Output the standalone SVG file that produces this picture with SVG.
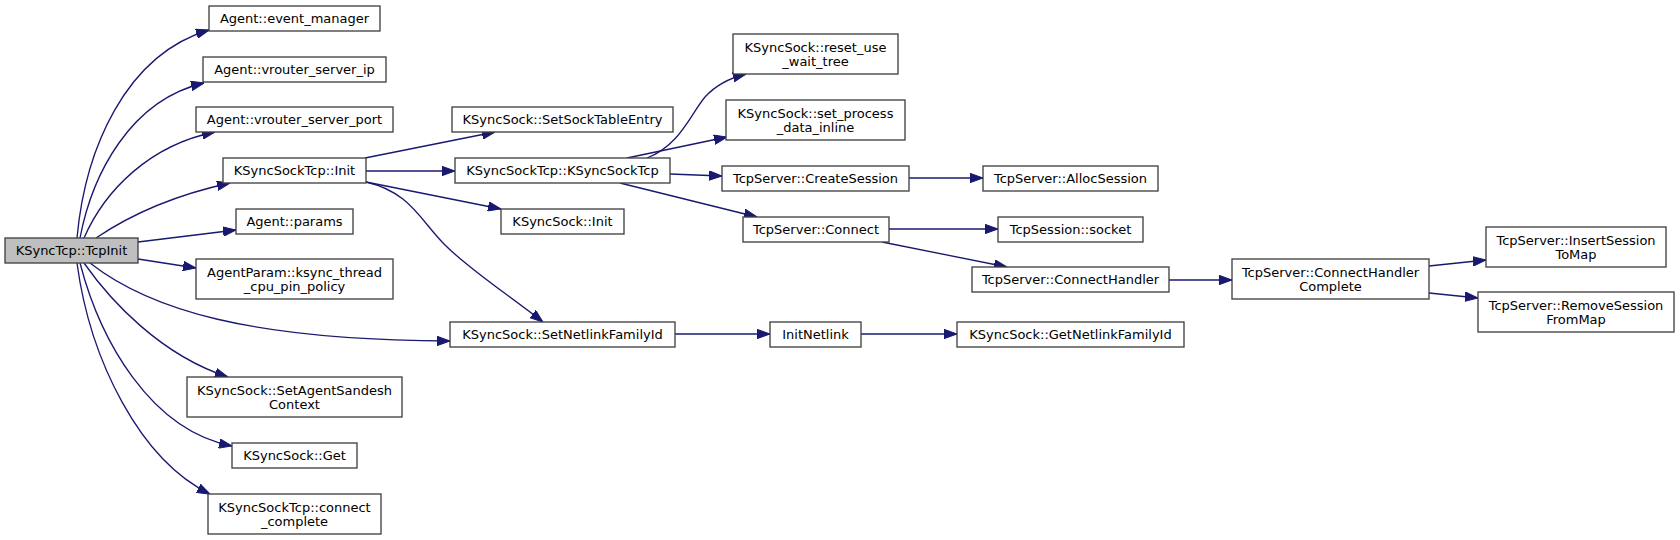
<svg xmlns="http://www.w3.org/2000/svg" width="1680" height="540" viewBox="0 0 1680 540">
<style>
.n rect{fill:#ffffff;stroke:#404040;stroke-width:1.33}
.n text{font-family:"DejaVu Sans",sans-serif;font-size:13px;text-anchor:middle;fill:#000000}
#tcpinit rect{fill:#bfbfbf}
.e path{fill:none;stroke:#191970;stroke-width:1.33;marker-end:url(#arr)}
</style>
<defs>
<marker id="arr" markerUnits="userSpaceOnUse" viewBox="0 0 13 10" markerWidth="13" markerHeight="10" refX="13" refY="5" orient="auto">
<path d="M0,0.3 L13,5 L0,9.7 z" fill="#191970" stroke="#191970" stroke-width="1"/>
</marker>
</defs>
<rect width="1680" height="540" fill="#ffffff"/>
<g id="edges" class="e">
<path d="M77,238 C85,150 125,55 209,30"/>
<path d="M80,238 C92,175 130,100 204,83"/>
<path d="M84,238 C105,190 150,145 215,132"/>
<path d="M96,238 C130,215 175,195 230,183"/>
<path d="M138,242 L236,230"/>
<path d="M138,259 L196,268"/>
<path d="M90,263 C150,310 250,340 450,341"/>
<path d="M84,263 C110,300 160,355 228,377"/>
<path d="M80,263 C100,340 150,430 232,446"/>
<path d="M77,263 C90,360 140,460 210,494"/>
<path d="M365,158 L495,132"/>
<path d="M366,171 L455,171"/>
<path d="M366,182 L501,209"/>
<path d="M366,182 C410,192 420,220 445,245 C470,270 510,296 543,322"/>
<path d="M647,158 C680,145 690,115 705,97 C715,86 730,78 746,74"/>
<path d="M627,158 L727,137"/>
<path d="M670,174 L722,176"/>
<path d="M620,183 L757,217"/>
<path d="M909,178 L983,178"/>
<path d="M889,229 L998,229"/>
<path d="M882,242 L1007,267"/>
<path d="M1169,280 L1232,280"/>
<path d="M1429,266 L1486,260"/>
<path d="M1429,293 L1478,298"/>
<path d="M675,334 L770,334"/>
<path d="M861,334 L957,334"/>
</g>
<g id="tcpinit" class="n"><rect x="5" y="238" width="133" height="25"/><text x="71.5" y="255">KSyncTcp::TcpInit</text></g>
<g id="event_manager" class="n"><rect x="209" y="6" width="171" height="25"/><text x="294.5" y="23">Agent::event_manager</text></g>
<g id="vrouter_server_ip" class="n"><rect x="203" y="57" width="183" height="25"/><text x="294.5" y="74">Agent::vrouter_server_ip</text></g>
<g id="vrouter_server_port" class="n"><rect x="196" y="107" width="197" height="25"/><text x="294.5" y="124">Agent::vrouter_server_port</text></g>
<g id="ksst_init" class="n"><rect x="223" y="158" width="143" height="25"/><text x="294.5" y="175">KSyncSockTcp::Init</text></g>
<g id="params" class="n"><rect x="236" y="209" width="117" height="25"/><text x="294.5" y="226">Agent::params</text></g>
<g id="agentparam" class="n"><rect x="196" y="259" width="197" height="40"/><text x="294.5" y="277">AgentParam::ksync_thread</text><text x="294.5" y="291">_cpu_pin_policy</text></g>
<g id="setnetlink" class="n"><rect x="450" y="322" width="225" height="25"/><text x="562.5" y="339">KSyncSock::SetNetlinkFamilyId</text></g>
<g id="sandesh" class="n"><rect x="187" y="377" width="215" height="40"/><text x="294.5" y="395">KSyncSock::SetAgentSandesh</text><text x="294.5" y="409">Context</text></g>
<g id="get" class="n"><rect x="232" y="443" width="125" height="25"/><text x="294.5" y="460">KSyncSock::Get</text></g>
<g id="connect_complete" class="n"><rect x="208" y="494" width="173" height="40"/><text x="294.5" y="512">KSyncSockTcp::connect</text><text x="294.5" y="526">_complete</text></g>
<g id="setsocktable" class="n"><rect x="452" y="107" width="221" height="25"/><text x="562.5" y="124">KSyncSock::SetSockTableEntry</text></g>
<g id="ksst_ctor" class="n"><rect x="455" y="158" width="215" height="25"/><text x="562.5" y="175">KSyncSockTcp::KSyncSockTcp</text></g>
<g id="ksinit" class="n"><rect x="501" y="209" width="123" height="25"/><text x="562.5" y="226">KSyncSock::Init</text></g>
<g id="reset" class="n"><rect x="733" y="34" width="165" height="40"/><text x="815.5" y="52">KSyncSock::reset_use</text><text x="815.5" y="66">_wait_tree</text></g>
<g id="setprocess" class="n"><rect x="726" y="100" width="179" height="40"/><text x="815.5" y="118">KSyncSock::set_process</text><text x="815.5" y="132">_data_inline</text></g>
<g id="createsession" class="n"><rect x="722" y="166" width="187" height="25"/><text x="815.5" y="183">TcpServer::CreateSession</text></g>
<g id="connect" class="n"><rect x="743" y="217" width="146" height="25"/><text x="816" y="234">TcpServer::Connect</text></g>
<g id="initnetlink" class="n"><rect x="770" y="322" width="91" height="25"/><text x="815.5" y="339">InitNetlink</text></g>
<g id="allocsession" class="n"><rect x="983" y="166" width="175" height="25"/><text x="1070.5" y="183">TcpServer::AllocSession</text></g>
<g id="socket" class="n"><rect x="998" y="217" width="145" height="25"/><text x="1070.5" y="234">TcpSession::socket</text></g>
<g id="connecthandler" class="n"><rect x="972" y="267" width="197" height="25"/><text x="1070.5" y="284">TcpServer::ConnectHandler</text></g>
<g id="getnetlink" class="n"><rect x="957" y="322" width="227" height="25"/><text x="1070.5" y="339">KSyncSock::GetNetlinkFamilyId</text></g>
<g id="complete" class="n"><rect x="1232" y="259" width="197" height="40"/><text x="1330.5" y="277">TcpServer::ConnectHandler</text><text x="1330.5" y="291">Complete</text></g>
<g id="insert" class="n"><rect x="1486" y="227" width="180" height="40"/><text x="1576" y="245">TcpServer::InsertSession</text><text x="1576" y="259">ToMap</text></g>
<g id="remove" class="n"><rect x="1478" y="292" width="196" height="40"/><text x="1576" y="310">TcpServer::RemoveSession</text><text x="1576" y="324">FromMap</text></g>
</svg>
